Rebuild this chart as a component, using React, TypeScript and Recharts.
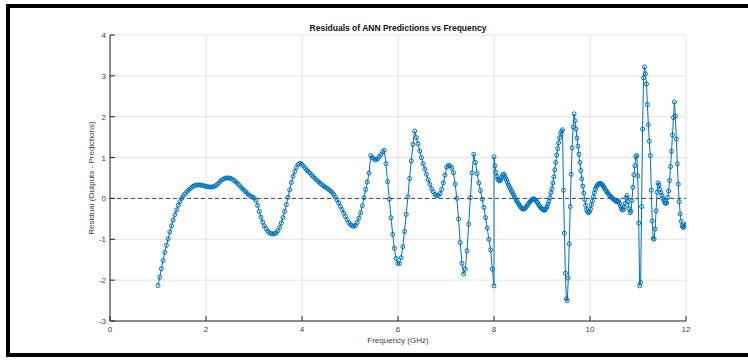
import { LineChart, Line, XAxis, YAxis, CartesianGrid, ReferenceLine } from "recharts"

// two sweeps: 1-8 GHz and 8-12 GHz, 200 points each
const lowBandStart = 1
const lowBandEnd = 8
const highBandStart = 8
const highBandEnd = 12

const lowBandResiduals = [
  -2.13, -1.93, -1.72, -1.52, -1.32, -1.15, -0.99, -0.82, -0.67, -0.53,
  -0.40, -0.28, -0.17, -0.08, 0.00, 0.06, 0.11, 0.16, 0.20, 0.24,
  0.27, 0.30, 0.32, 0.33, 0.33, 0.33, 0.32, 0.31, 0.30, 0.29,
  0.28, 0.28, 0.28, 0.29, 0.31, 0.34, 0.38, 0.42, 0.46, 0.48,
  0.50, 0.50, 0.50, 0.49, 0.47, 0.44, 0.41, 0.37, 0.33, 0.28,
  0.24, 0.20, 0.16, 0.12, 0.08, 0.05, 0.03, 0.01, -0.05, -0.17,
  -0.32, -0.46, -0.58, -0.67, -0.74, -0.80, -0.84, -0.86, -0.87, -0.86,
  -0.84, -0.79, -0.71, -0.60, -0.47, -0.32, -0.15, 0.03, 0.21, 0.39,
  0.54, 0.66, 0.76, 0.83, 0.86, 0.84, 0.80, 0.75, 0.70, 0.66,
  0.62, 0.57, 0.53, 0.49, 0.45, 0.41, 0.37, 0.34, 0.31, 0.28,
  0.25, 0.22, 0.19, 0.15, 0.10, 0.04, -0.03, -0.11, -0.19, -0.27,
  -0.36, -0.44, -0.52, -0.59, -0.64, -0.67, -0.68, -0.66, -0.59, -0.48,
  -0.35, -0.18, 0.02, 0.22, 0.40, 0.62, 1.05, 1.00, 0.96, 0.94,
  0.97, 1.02, 1.07, 1.14, 1.18, 0.85, 0.41, -0.02, -0.47, -0.88,
  -1.22, -1.47, -1.59, -1.59, -1.45, -1.18, -0.81, -0.39, 0.04, 0.49,
  0.92, 1.32, 1.65, 1.49, 1.34, 1.16, 1.00, 0.85, 0.72, 0.59,
  0.46, 0.35, 0.24, 0.16, 0.10, 0.07, 0.07, 0.12, 0.22, 0.38,
  0.57, 0.77, 0.81, 0.80, 0.75, 0.63, 0.35, 0.00, -0.50, -1.08,
  -1.59, -1.85, -1.73, -1.28, -0.63, 0.02, 0.63, 1.08, 0.88, 0.61,
  0.38, 0.19, -0.02, -0.22, -0.47, -0.73, -1.00, -1.26, -1.73, -2.14,
]

const highBandResiduals = [
  1.02, 0.80, 0.64, 0.54, 0.47, 0.44, 0.43, 0.46, 0.52, 0.58,
  0.60, 0.55, 0.50, 0.45, 0.39, 0.33, 0.28, 0.24, 0.19, 0.15,
  0.10, 0.05, 0.01, -0.04, -0.08, -0.11, -0.15, -0.19, -0.22, -0.25,
  -0.26, -0.26, -0.25, -0.22, -0.19, -0.15, -0.12, -0.09, -0.06, -0.04,
  -0.02, -0.01, -0.02, -0.04, -0.07, -0.10, -0.14, -0.18, -0.21, -0.24,
  -0.26, -0.28, -0.29, -0.28, -0.25, -0.20, -0.14, -0.07, 0.02, 0.14,
  0.24, 0.38, 0.53, 0.70, 0.88, 1.06, 1.22, 1.36, 1.48, 1.58,
  1.64, 1.68, 0.20, -0.85, -1.83, -2.46, -2.50, -1.95, -1.11, -0.20,
  0.59, 1.24, 1.75, 2.07, 1.90, 1.70, 1.48, 1.28, 1.08, 0.88,
  0.68, 0.48, 0.30, 0.13, -0.03, -0.17, -0.27, -0.33, -0.35, -0.32,
  -0.26, -0.16, -0.06, 0.04, 0.14, 0.22, 0.28, 0.32, 0.35, 0.36,
  0.37, 0.36, 0.34, 0.31, 0.27, 0.23, 0.19, 0.16, 0.13, 0.10,
  0.07, 0.04, 0.02, 0.00, -0.02, -0.04, -0.06, -0.08, -0.07, -0.06,
  -0.12, -0.18, -0.24, -0.28, -0.28, -0.21, -0.12, 0.02, 0.07, -0.08,
  -0.25, -0.35, -0.31, -0.05, 0.27, 0.58, 0.80, 1.02, 1.05, 0.55,
  -0.60, -2.14, -2.06, -0.20, 1.70, 2.95, 3.22, 3.05, 2.80, 2.30,
  1.80, 1.40, 1.05, 0.20, -0.55, -0.98, -1.00, -0.75, -0.30, 0.15,
  0.38, 0.33, 0.22, 0.14, 0.07, 0.00, -0.05, -0.11, -0.12, -0.11,
  0.02, 0.18, 0.44, 0.78, 1.15, 1.55, 1.98, 2.36, 2.02, 1.45,
  0.85, 0.35, -0.08, -0.38, -0.56, -0.67, -0.71, -0.69, -0.66, -0.63,
]

const xTicks = [0, 2, 4, 6, 8, 10, 12]
const yTicks = [-3, -2, -1, 0, 1, 2, 3, 4]

const sweep = (start: number, end: number, values: number[]) =>
  values.map((residual, i) => ({
    freq: start + (i * (end - start)) / (values.length - 1),
    residual,
  }))

const data = [
  ...sweep(lowBandStart, lowBandEnd, lowBandResiduals),
  ...sweep(highBandStart, highBandEnd, highBandResiduals),
]

const BLUE = "#0072BD"
const AXIS = "#262626"
const TICK_TEXT = "#404040"
const font = "'Liberation Sans', Arial, Helvetica, sans-serif"

const BottomTick = ({ x, y, payload }: any) => (
  <g>
    <line x1={x} y1={y} x2={x} y2={y - 5} stroke={AXIS} />
    <text x={x} y={y + 11} textAnchor="middle" fontSize={8} fill={TICK_TEXT} fontFamily={font}>
      {payload.value}
    </text>
  </g>
)

const TopTick = ({ x, y }: any) => <line x1={x} y1={y} x2={x} y2={y + 5} stroke={AXIS} />

const LeftTick = ({ x, y, payload }: any) => (
  <g>
    <line x1={x} y1={y} x2={x + 5} y2={y} stroke={AXIS} />
    <text x={x - 4} y={y + 3} textAnchor="end" fontSize={8} fill={TICK_TEXT} fontFamily={font}>
      {payload.value}
    </text>
  </g>
)

const RightTick = ({ x, y }: any) => <line x1={x} y1={y} x2={x - 5} y2={y} stroke={AXIS} />

export default function App() {
  return (
    <div
      style={{
        position: "fixed",
        left: 0,
        top: 0,
        width: 748,
        height: 362,
        overflow: "hidden",
        background: "#fff",
        fontFamily: font,
      }}
    >
      <div
        style={{
          position: "absolute",
          left: 6,
          top: 4,
          width: 800,
          height: 353,
          boxSizing: "border-box",
          border: "4px solid #000",
        }}
      />
      <div
        style={{
          position: "absolute",
          left: 110,
          width: 576,
          top: 23,
          textAlign: "center",
          fontSize: 8.5,
          lineHeight: "10px",
          fontWeight: "bold",
          color: "#111",
        }}
      >
        Residuals of ANN Predictions vs Frequency
      </div>
      <div
        style={{
          position: "absolute",
          left: 110,
          width: 576,
          top: 336,
          textAlign: "center",
          fontSize: 8,
          lineHeight: "10px",
          color: TICK_TEXT,
        }}
      >
        Frequency (GHz)
      </div>
      <div
        style={{
          position: "absolute",
          left: 92,
          top: 178,
          transform: "translate(-50%, -50%) rotate(-90deg)",
          whiteSpace: "nowrap",
          fontSize: 8,
          lineHeight: "10px",
          color: TICK_TEXT,
        }}
      >
        Residual (Outputs - Predictions)
      </div>
      <div style={{ position: "absolute", left: 0, top: 0 }}>
        <LineChart width={748} height={362} data={data} margin={{ top: 35, right: 62, bottom: 0, left: 0 }}>
          <CartesianGrid stroke="#e3e3e3" strokeWidth={1} />
          <XAxis
            dataKey="freq"
            type="number"
            domain={[0, 12]}
            ticks={xTicks}
            allowDataOverflow
            height={41}
            tickSize={0}
            tickMargin={0}
            tickLine={false}
            axisLine={{ stroke: AXIS }}
            tick={<BottomTick />}
            interval={0}
          />
          <XAxis
            xAxisId="top"
            orientation="top"
            dataKey="freq"
            type="number"
            domain={[0, 12]}
            ticks={xTicks}
            allowDataOverflow
            height={0}
            tickSize={0}
            tickMargin={0}
            tickLine={false}
            axisLine={{ stroke: AXIS }}
            tick={<TopTick />}
            interval={0}
          />
          <YAxis
            type="number"
            domain={[-3, 4]}
            ticks={yTicks}
            allowDataOverflow
            width={110}
            tickSize={0}
            tickMargin={0}
            tickLine={false}
            axisLine={{ stroke: AXIS }}
            tick={<LeftTick />}
            interval={0}
          />
          <YAxis
            yAxisId="right"
            orientation="right"
            type="number"
            domain={[-3, 4]}
            ticks={yTicks}
            allowDataOverflow
            width={0}
            tickSize={0}
            tickMargin={0}
            tickLine={false}
            axisLine={{ stroke: AXIS }}
            tick={<RightTick />}
            interval={0}
          />
          <ReferenceLine y={0} stroke="#333" strokeDasharray="4 3" strokeWidth={0.9} />
          <Line
            type="linear"
            dataKey="residual"
            stroke={BLUE}
            strokeWidth={1}
            dot={{ r: 2, stroke: BLUE, strokeWidth: 1, fill: "none" }}
            activeDot={false}
            isAnimationActive={false}
          />
        </LineChart>
      </div>
    </div>
  )
}
